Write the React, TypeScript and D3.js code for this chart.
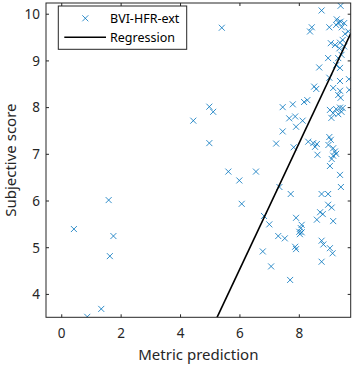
import React from "react";
import * as d3 from "d3";

const xTicks = [0, 2, 4, 6, 8];
const yTicks = [4, 5, 6, 7, 8, 9, 10];
const seriesName = "BVI-HFR-ext";
const lineName = "Regression";
const regSlope = 1.35;
const regIntercept = -3.55;

const xValues = [
  0.41, 1.58, 1.74, 1.62, 1.33, 0.86,
  5.39, 4.43, 4.97, 5.10, 4.97, 5.61, 5.98, 6.54, 6.06, 6.81, 6.99, 6.77, 7.05, 7.69, 7.29, 7.51, 7.33, 7.71, 7.22,
  7.44, 7.78, 8.16, 8.27, 7.66, 7.86, 8.11, 7.89, 7.44, 7.81,
  8.30, 8.47, 8.59, 8.53, 8.61,
  7.89, 8.08, 8.05, 8.00, 8.08, 8.02, 7.86, 7.89,
  8.50, 8.57, 8.67, 8.97,
  8.42, 8.36, 8.75, 9.01, 9.39, 9.26, 9.31, 9.24, 9.39, 9.51, 9.43, 9.65, 9.54, 9.06, 9.20, 9.37, 9.46, 9.35, 9.51, 9.31, 9.42, 9.24, 9.37,
  9.01, 9.37, 9.67, 9.14, 9.37, 9.68, 9.31, 9.39,
  9.03, 9.24, 9.37, 9.46, 9.14, 9.31, 9.08, 9.42,
  9.01, 9.06, 8.98, 9.14, 9.20, 9.24, 9.14, 9.09, 9.03, 9.37, 9.40,
  8.75, 8.97, 8.97, 9.09, 8.70, 8.79, 8.59, 9.14, 8.75, 8.81, 9.03, 9.12, 8.75,
];
const yValues = [
  5.40, 6.02, 5.25, 4.82, 3.69, 3.52,
  9.71, 7.72, 8.02, 7.91, 7.24, 6.63, 6.44, 6.63, 5.94, 5.68, 5.50, 4.92, 4.60, 4.31, 5.25, 5.20, 6.30, 6.15, 7.23,
  8.01, 8.07, 8.12, 8.16, 7.77, 7.81, 7.72, 7.59, 7.49, 7.15,
  7.27, 7.24, 7.22, 7.16, 6.99,
  5.64, 5.49, 5.42, 5.34, 5.33, 5.29, 5.02, 4.97,
  8.45, 8.40, 8.86, 9.06,
  9.72, 9.63, 10.08, 9.72, 10.18, 9.89, 9.82, 9.77, 9.84, 9.81, 9.72, 9.63, 9.58, 9.38, 9.34, 9.39, 9.45, 9.27, 9.31, 9.06, 9.13, 8.91, 8.85,
  8.64, 8.57, 8.61, 8.42, 8.36, 8.38, 8.27, 8.21,
  7.95, 7.97, 8.00, 7.99, 7.88, 7.86, 7.78, 7.91,
  7.37, 7.31, 7.20, 7.13, 7.06, 7.01, 6.97, 6.90, 6.75, 6.56, 6.30,
  6.15, 6.15, 5.92, 5.86, 5.76, 5.72, 5.60, 5.57, 5.15, 5.07, 4.99, 4.88, 4.70,
];

const W = 355;
const H = 366;
const left = 46, right = 350.7, top = 3, bottom = 317.3;
const axisColor = "#262626";
const blue = "#0072BD";
const font = "'Noto Sans', sans-serif";

export default function App() {
  const x = d3.scaleLinear().domain([-0.53, 9.73]).range([left, right]);
  const y = d3.scaleLinear().domain([3.51, 10.24]).range([bottom, top]);
  const [xd0, xd1] = x.domain();
  const [yd0] = y.domain();
  const xStart = Math.max(xd0, (yd0 - regIntercept) / regSlope);
  const regLine = d3.line<number>().x((v) => x(v)).y((v) => y(regSlope * v + regIntercept));
  const m = 3;
  const cross = (cx: number, cy: number) => `M${cx - m},${cy - m}L${cx + m},${cy + m}M${cx - m},${cy + m}L${cx + m},${cy - m}`;
  const tl = 3;
  return (
    <svg width={W} height={H} style={{ position: "absolute", left: 0, top: 0 }} fontFamily={font}>
      <rect x={0} y={0} width={W} height={H} fill="#fff" />
      <defs>
        <clipPath id="plot">
          <rect x={left} y={top} width={right - left} height={bottom - top} />
        </clipPath>
      </defs>
      <g clipPath="url(#plot)">
        {xValues.map((xv, i) => (
          <path key={i} d={cross(x(xv), y(yValues[i]))} stroke={blue} strokeWidth={0.8} fill="none" />
        ))}
        <path d={regLine([xStart, xd1]) || ""} stroke="#000" strokeWidth={1.6} fill="none" />
      </g>
      <rect x={left} y={top} width={right - left} height={bottom - top} fill="none" stroke={axisColor} strokeWidth={1} />
      {xTicks.map((t) => (
        <g key={"x" + t}>
          <line x1={x(t)} x2={x(t)} y1={bottom} y2={bottom - tl} stroke={axisColor} />
          <line x1={x(t)} x2={x(t)} y1={top} y2={top + tl} stroke={axisColor} />
          <text x={x(t)} y={337.5} textAnchor="middle" fontSize={13.5} fill={axisColor}>{t}</text>
        </g>
      ))}
      {yTicks.map((t) => (
        <g key={"y" + t}>
          <line x1={left} x2={left + tl} y1={y(t)} y2={y(t)} stroke={axisColor} />
          <line x1={right} x2={right - tl} y1={y(t)} y2={y(t)} stroke={axisColor} />
          <text x={40} y={y(t) + 4.8} textAnchor="end" fontSize={13.5} fill={axisColor}>{t}</text>
        </g>
      ))}
      <text x={(left + right) / 2} y={359.5} textAnchor="middle" fontSize={15} fill={axisColor}>Metric prediction</text>
      <text transform={`translate(15.5,${(top + bottom) / 2}) rotate(-90)`} textAnchor="middle" fontSize={15} fill={axisColor}>Subjective score</text>
      <g>
        <rect x={58.3} y={6} width={128.4} height={43.3} fill="#fff" stroke={axisColor} strokeWidth={1} />
        <path d={cross(85.3, 18.3)} stroke={blue} strokeWidth={0.8} fill="none" />
        <text x={110} y={23.3} fontSize={12.5} fill="#000">{seriesName}</text>
        <line x1={64.3} x2={106} y1={37.3} y2={37.3} stroke="#000" strokeWidth={1.6} />
        <text x={110} y={41.5} fontSize={12.5} fill="#000">{lineName}</text>
      </g>
    </svg>
  );
}
